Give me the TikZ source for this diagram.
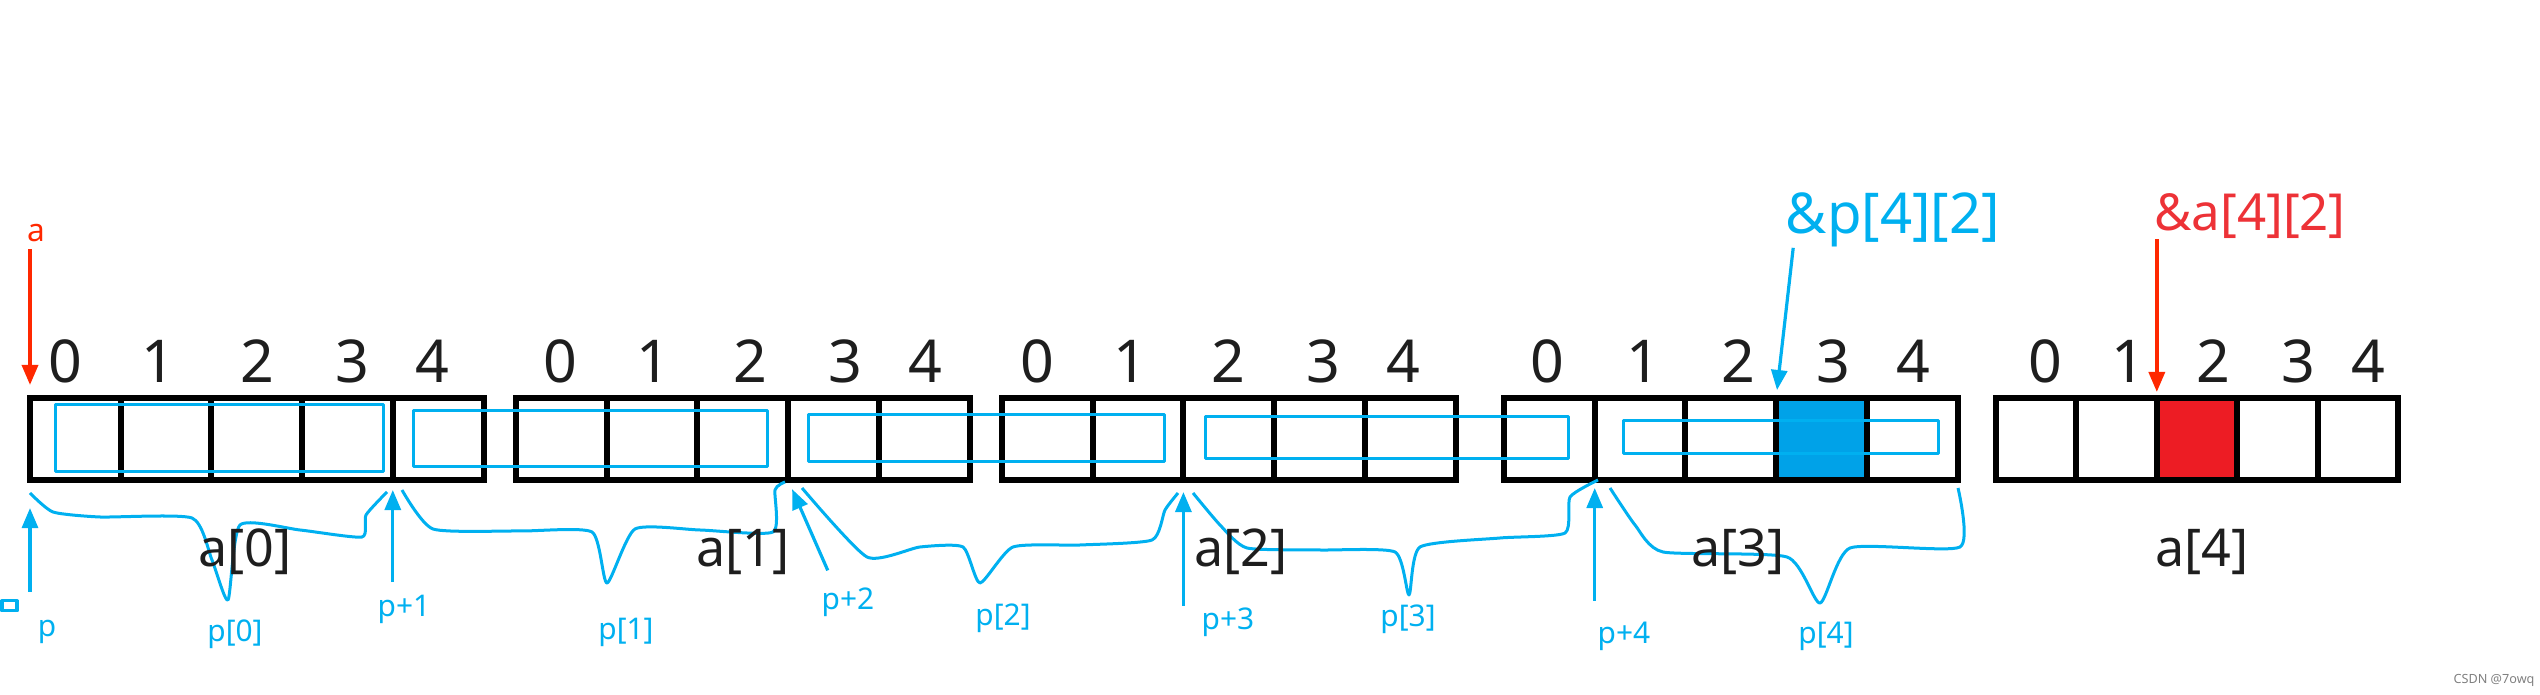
\documentclass[tikz,border=0pt]{standalone}
\usepackage{fontspec}
\setmainfont{Noto Sans}
\usetikzlibrary{arrows.meta}

\definecolor{pblue}{RGB}{0,176,240}
\definecolor{pfill}{RGB}{0,162,232}
\definecolor{ared}{RGB}{255,40,0}
\definecolor{atext}{RGB}{237,50,55}
\definecolor{afill}{RGB}{237,28,36}
\definecolor{ink}{RGB}{30,30,30}

\tikzset{
  cell/.style={draw=black,line width=0.06cm,inner sep=0pt,outer sep=0pt,minimum height=0.82cm},
  idx/.style={font=\fontsize{16.8}{17}\selectfont,text=ink,inner sep=0pt},
  rowlab/.style={font=\fontsize{14.8}{15}\selectfont,text=ink,inner sep=0pt},
  plab/.style={font=\fontsize{8.5}{9}\selectfont,text=pblue,inner sep=0pt},
  pline/.style={draw=pblue,line width=0.03cm,line join=round},
  parrow/.style={pblue,line width=0.032cm,-{Triangle[length=0.2cm,width=0.16cm]}},
  aarrow/.style={ared,line width=0.035cm,-{Triangle[length=0.2cm,width=0.16cm]}},
}

\begin{document}
\begin{tikzpicture}[x=0.01cm,y=-0.01cm]
	\useasboundingbox (0,0) rectangle (2540,695);

	% the 25 cells of a[5][5]
	\foreach \s/\x/\w in {0/30/90.7,1/516/90.7,2/1002/90.7,3/1504/90.7,4/1996/80.4}
	  \foreach \i in {0,...,4} {
	    \def\f{none}
	    \ifnum\s\i=33 \def\f{pfill}\fi
	    \ifnum\s\i=42 \def\f{afill}\fi
	    \node[cell,fill=\f,minimum width=\w*0.01cm] (c\s\i) at (\x+\w/2+\i*\w,439) {};
	  }

	% column numbers
	\foreach \x [count=\n from 0] in {65,158,257,352,432,560,653,750,845,925,
	    1037,1130,1228,1323,1403,1547,1643,1738,1833,1913,2045,2128,2213,2298,2368} {
	  \pgfmathtruncatemacro\k{mod(\n,5)}
	  \node[idx] (i\n) at (\x,361) {\k};
	}

	% rows seen through p
	\draw[pline] (55,405) rectangle (383,472);
	\draw[pline] (413,411) rectangle (767,467);
	\draw[pline] (808,415) rectangle (1164,462);
	\draw[pline] (1205,417) rectangle (1568,459);
	\draw[pline] (1623,421) rectangle (1938,454);
	\draw[pline] (2,601) rectangle (17,611);

	% braces
	\draw[pline] plot[smooth,tension=0.35] coordinates {(30,493) (53,512) (100,517) (192,518) (212,560) (228,600) (240,525) (300,530) (362,537) (366,515) (387,492)};
	\draw[pline] plot[smooth,tension=0.35] coordinates {(402,490) (433,529) (520,531) (592,532) (607,583) (635,529) (700,530) (773,532) (775,490) (785,482)};
	\draw[pline] plot[smooth,tension=0.35] coordinates {(802,488) (867,557) (920,547) (963,547) (980,583) (1013,547) (1080,545) (1152,540) (1165,510) (1178,493)};
	\draw[pline] plot[smooth,tension=0.35] coordinates {(1193,493) (1220,525) (1247,548) (1320,550) (1395,552) (1409,595) (1420,547) (1500,538) (1565,533) (1570,497) (1598,480)};
	\draw[pline] plot[smooth,tension=0.35] coordinates {(1610,488) (1635,525) (1663,552) (1787,557) (1820,603) (1850,548) (1960,547) (1958,488)};

	% row names
	\node[rowlab] (r0) at (245,552) {a[0]};
	\node[rowlab] (r1) at (743,552) {a[1]};
	\node[rowlab] (r2) at (1241,552) {a[2]};
	\node[rowlab] (r3) at (1738,552) {a[3]};
	\node[rowlab] (r4) at (2202,552) {a[4]};

	% p labels
	\node[plab] (lp) at (47,632) {p};
	\node[plab] (lp1) at (404,609) {p+1};
	\node[plab] (lp2) at (848,602) {p+2};
	\node[plab] (lp3) at (1228,622) {p+3};
	\node[plab] (lp4) at (1624,636) {p+4};
	\node[plab] (q0) at (235,634) {p[0]};
	\node[plab] (q1) at (626,632) {p[1]};
	\node[plab] (q2) at (1003,618) {p[2]};
	\node[plab] (q3) at (1408,619) {p[3]};
	\node[plab] (q4) at (1826,636) {p[4]};

	\draw[parrow,shorten <=0.28cm,shorten >=0.28cm] (c00.south west |- lp.north) -- (c00.south west);
	\draw[parrow,shorten <=0.12cm,shorten >=0.1cm] (c04.south west |- lp1.north) -- (c04.south west);
	\draw[parrow,shorten <=0.18cm,shorten >=0.1cm] ([xshift=-0.13cm]lp2.north) -- (c13.south west);
	\draw[parrow,shorten <=0.01cm,shorten >=0.12cm] (c22.south west |- lp3.north) -- (c22.south west);
	\draw[parrow,shorten <=0.2cm,shorten >=0.08cm] (c31.south west |- lp4.north) -- (c31.south west);

	% a and the two addresses
	\node[font=\fontsize{9}{9}\selectfont,text=ared,inner sep=0pt] (la) at (36,233) {a};
	\draw[aarrow,shorten <=0.07cm,shorten >=0.13cm] (c00.north west |- la.south) -- (c00.north west);

	\node[font=\fontsize{16}{16}\selectfont,text=pblue,inner sep=0pt] (lp42) at (1893,220) {\&p[4][2]};
	\draw[parrow,shorten >=0.08cm] ([xshift=0.08cm]lp42.south west) -- (c33.north west);

	\node[font=\fontsize{14.5}{15}\selectfont,text=atext,inner sep=0pt] (la42) at (2250,216) {\&a[4][2]};
	\draw[aarrow,shorten >=0.06cm] (c42.north west |- la42.south) -- (c42.north west);

	\node[font=\fontsize{3.6}{4}\selectfont,text=gray,inner sep=0pt] (wm) at (2494,680) {CSDN @7owq};

\end{tikzpicture}
\end{document}
